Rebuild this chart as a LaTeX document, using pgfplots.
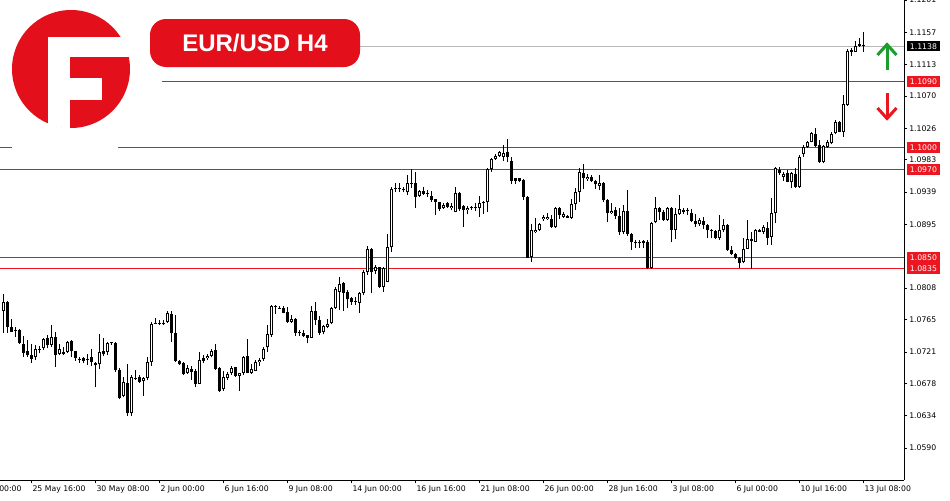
\documentclass[border=0pt]{standalone}
\usepackage{fontspec}
\setmainfont{DejaVu Sans}
\newfontfamily\titlefont{Liberation Sans}
\usepackage{pgfplots}
\usepackage{pgfplotstable}
\pgfplotsset{compat=1.18}
\definecolor{fxred}{RGB}{227,16,28}
\definecolor{lvlred}{RGB}{235,22,32}
\definecolor{upgreen}{RGB}{28,158,46}
\definecolor{lvlgray}{RGB}{185,185,185}

\pgfplotstableread{
i o h l c
0 1.07772 1.08000 1.07472 1.07886
1 1.07886 1.07909 1.07472 1.07554
2 1.07545 1.07654 1.07486 1.07486
3 1.07508 1.07545 1.07417 1.07504
4 1.07508 1.07518 1.07317 1.07336
5 1.07317 1.07427 1.07144 1.07199
6 1.07222 1.07372 1.07144 1.07167
7 1.07167 1.07317 1.07063 1.07113
8 1.07135 1.07304 1.07099 1.07249
9 1.07245 1.07290 1.07190 1.07249
10 1.07258 1.07395 1.07235 1.07381
11 1.07395 1.07440 1.07258 1.07304
12 1.07304 1.07577 1.07281 1.07408
13 1.07408 1.07486 1.07008 1.07167
14 1.07181 1.07317 1.07167 1.07245
15 1.07213 1.07281 1.07167 1.07181
16 1.07208 1.07358 1.07190 1.07349
17 1.07358 1.07372 1.07144 1.07226
18 1.07222 1.07226 1.07090 1.07131
19 1.07117 1.07135 1.07063 1.07113
20 1.07126 1.07135 1.07053 1.07090
21 1.07117 1.07181 1.07031 1.07113
22 1.07135 1.07245 1.07017 1.07076
23 1.07063 1.07076 1.06726 1.07026
24 1.07040 1.07454 1.06972 1.07208
25 1.07222 1.07395 1.07154 1.07181
26 1.07204 1.07349 1.07167 1.07336
27 1.07345 1.07349 1.07304 1.07326
28 1.07336 1.07345 1.06940 1.06962
29 1.06962 1.06985 1.06562 1.06576
30 1.06608 1.06862 1.06589 1.06794
31 1.06780 1.07040 1.06335 1.06371
32 1.06371 1.06894 1.06335 1.06862
33 1.06844 1.06962 1.06826 1.06848
34 1.06862 1.06894 1.06790 1.06803
35 1.06817 1.06871 1.06608 1.06853
36 1.06858 1.07135 1.06826 1.07067
37 1.07067 1.07622 1.07017 1.07590
38 1.07599 1.07668 1.07590 1.07609
39 1.07609 1.07645 1.07577 1.07604
40 1.07604 1.07645 1.07577 1.07609
41 1.07622 1.07768 1.07599 1.07745
42 1.07727 1.07768 1.07349 1.07463
43 1.07472 1.07713 1.07076 1.07090
44 1.07089 1.07098 1.07030 1.07043
45 1.07062 1.07075 1.06893 1.06907
46 1.06925 1.07030 1.06907 1.06993
47 1.06975 1.07016 1.06825 1.06939
48 1.06948 1.06971 1.06734 1.06770
49 1.06779 1.07212 1.06770 1.07098
50 1.07121 1.07166 1.07062 1.07089
51 1.07121 1.07175 1.07098 1.07157
52 1.07157 1.07244 1.07134 1.07225
53 1.07234 1.07316 1.06961 1.06975
54 1.06993 1.07007 1.06666 1.06679
55 1.06698 1.06952 1.06679 1.06870
56 1.06861 1.06939 1.06825 1.06907
57 1.06916 1.07016 1.06893 1.06993
58 1.06998 1.07007 1.06870 1.06880
59 1.06884 1.06925 1.06679 1.06916
60 1.06916 1.07153 1.06893 1.07134
61 1.07153 1.07385 1.06916 1.06925
62 1.06916 1.07052 1.06907 1.06975
63 1.06952 1.07098 1.06948 1.07066
64 1.07066 1.07121 1.07016 1.07098
65 1.07107 1.07280 1.07089 1.07248
66 1.07271 1.07576 1.07212 1.07448
67 1.07439 1.07849 1.07416 1.07835
68 1.07835 1.07849 1.07726 1.07830
69 1.07808 1.07840 1.07794 1.07803
70 1.07812 1.07835 1.07735 1.07744
71 1.07753 1.07826 1.07608 1.07621
72 1.07621 1.07712 1.07598 1.07658
73 1.07658 1.07667 1.07430 1.07471
74 1.07476 1.07507 1.07430 1.07471
75 1.07462 1.07507 1.07416 1.07430
76 1.07435 1.07439 1.07325 1.07403
77 1.07403 1.07835 1.07394 1.07767
78 1.07767 1.07885 1.07576 1.07644
79 1.07644 1.07699 1.07439 1.07471
80 1.07485 1.07576 1.07448 1.07562
81 1.07553 1.07653 1.07530 1.07589
82 1.07598 1.07826 1.07585 1.07803
83 1.07803 1.08090 1.07794 1.08063
84 1.08031 1.08226 1.07780 1.08135
85 1.08144 1.08167 1.07771 1.08017
86 1.08031 1.08053 1.07803 1.07926
87 1.07940 1.07962 1.07849 1.07894
88 1.07894 1.07953 1.07849 1.07899
89 1.07881 1.08031 1.07744 1.08008
90 1.08008 1.08326 1.07980 1.08303
91 1.08303 1.08654 1.08258 1.08608
92 1.08608 1.08622 1.08008 1.08294
93 1.08313 1.08394 1.08267 1.08372
94 1.08363 1.08372 1.08085 1.08099
95 1.08099 1.08372 1.08030 1.08349
96 1.08167 1.08813 1.08158 1.08636
97 1.08636 1.09464 1.08576 1.09432
98 1.09432 1.09509 1.09395 1.09441
99 1.09441 1.09509 1.09395 1.09432
100 1.09432 1.09464 1.09386 1.09418
101 1.09386 1.09623 1.09350 1.09509
102 1.09509 1.09700 1.09441 1.09504
103 1.09509 1.09659 1.09177 1.09327
104 1.09336 1.09418 1.09327 1.09405
105 1.09405 1.09464 1.09350 1.09359
106 1.09368 1.09418 1.09327 1.09364
107 1.09341 1.09405 1.09259 1.09282
108 1.09291 1.09296 1.09077 1.09259
109 1.09250 1.09259 1.09132 1.09159
110 1.09168 1.09236 1.09159 1.09213
111 1.09236 1.09259 1.09177 1.09191
112 1.09169 1.09236 1.09145 1.09204
113 1.09122 1.09464 1.09113 1.09373
114 1.09373 1.09395 1.09132 1.09159
115 1.09204 1.09213 1.08918 1.09145
116 1.09145 1.09204 1.09086 1.09177
117 1.09181 1.09204 1.09145 1.09185
118 1.09186 1.09236 1.09132 1.09191
119 1.09169 1.09341 1.09054 1.09236
120 1.09236 1.09268 1.09086 1.09250
121 1.09250 1.09723 1.09122 1.09700
122 1.09700 1.09860 1.09669 1.09841
123 1.09841 1.09905 1.09830 1.09887
124 1.09887 1.09955 1.09870 1.09932
125 1.09873 1.10032 1.09814 1.09919
126 1.09932 1.10114 1.09805 1.09873
127 1.09814 1.09873 1.09496 1.09546
128 1.09577 1.09587 1.09496 1.09541
129 1.09577 1.09587 1.09532 1.09546
130 1.09555 1.09568 1.09282 1.09327
131 1.09327 1.09341 1.08485 1.08495
132 1.08508 1.08950 1.08440 1.08872
133 1.08840 1.09031 1.08827 1.08872
134 1.08872 1.08963 1.08859 1.08950
135 1.09018 1.09077 1.09000 1.09054
136 1.09022 1.09100 1.09009 1.09054
137 1.09022 1.09077 1.08904 1.08918
138 1.08909 1.09191 1.08895 1.09177
139 1.09168 1.09191 1.09022 1.09077
140 1.09054 1.09122 1.09041 1.09086
141 1.09068 1.09077 1.09032 1.09041
142 1.09041 1.09295 1.09022 1.09223
143 1.09223 1.09441 1.09145 1.09396
144 1.09396 1.09714 1.09259 1.09659
145 1.09646 1.09769 1.09432 1.09587
146 1.09568 1.09632 1.09541 1.09600
147 1.09600 1.09623 1.09532 1.09541
148 1.09541 1.09555 1.09432 1.09496
149 1.09477 1.09623 1.09418 1.09514
150 1.09509 1.09532 1.09259 1.09282
151 1.09282 1.09296 1.08977 1.09100
152 1.09100 1.09236 1.09086 1.09132
153 1.09145 1.09191 1.09022 1.09068
154 1.09068 1.09168 1.08804 1.08849
155 1.08840 1.09214 1.08813 1.09132
156 1.09132 1.09418 1.08795 1.08813
157 1.08813 1.08827 1.08599 1.08704
158 1.08704 1.08736 1.08631 1.08690
159 1.08690 1.08736 1.08631 1.08704
160 1.08722 1.08736 1.08622 1.08690
161 1.08704 1.08736 1.08340 1.08352
162 1.08349 1.08986 1.08340 1.08963
163 1.08977 1.09327 1.08963 1.09177
164 1.09177 1.09191 1.09009 1.09113
165 1.09122 1.09145 1.08996 1.09009
166 1.09009 1.09182 1.08996 1.09177
167 1.09177 1.09182 1.08704 1.08872
168 1.08872 1.09177 1.08749 1.09086
169 1.09086 1.09350 1.09077 1.09159
170 1.09122 1.09168 1.09086 1.09145
171 1.09132 1.09168 1.09077 1.09136
172 1.09100 1.09159 1.08986 1.08996
173 1.08994 1.09085 1.08916 1.08948
174 1.08948 1.09039 1.08930 1.09007
175 1.08994 1.09053 1.08893 1.08939
176 1.08939 1.08948 1.08766 1.08871
177 1.08871 1.08893 1.08757 1.08875
178 1.08857 1.08871 1.08748 1.08757
179 1.08757 1.09075 1.08734 1.08871
180 1.08871 1.09021 1.08848 1.08939
181 1.08939 1.08948 1.08584 1.08598
182 1.08598 1.08657 1.08529 1.08552
183 1.08552 1.08566 1.08475 1.08493
184 1.08493 1.08507 1.08357 1.08416
185 1.08439 1.08757 1.08416 1.08620
186 1.08620 1.09007 1.08610 1.08748
187 1.08748 1.08848 1.08347 1.08721
188 1.08712 1.08884 1.08703 1.08871
189 1.08871 1.08884 1.08839 1.08848
190 1.08848 1.08939 1.08825 1.08916
191 1.08903 1.08984 1.08675 1.08766
192 1.08780 1.09312 1.08666 1.09098
193 1.09098 1.09735 1.08962 1.09722
194 1.09690 1.09735 1.09621 1.09644
195 1.09599 1.09667 1.09540 1.09631
196 1.09644 1.09690 1.09521 1.09530
197 1.09530 1.09667 1.09439 1.09644
198 1.09631 1.09722 1.09449 1.09462
199 1.09462 1.09894 1.09449 1.09872
200 1.09904 1.10031 1.09872 1.10008
201 1.10008 1.10085 1.09995 1.10067
202 1.10076 1.10204 1.10067 1.10190
203 1.10176 1.10258 1.10008 1.10022
204 1.10031 1.10099 1.09781 1.09803
205 1.09803 1.10031 1.09781 1.10022
206 1.10008 1.10099 1.09995 1.10076
207 1.10054 1.10213 1.10040 1.10177
208 1.10190 1.10372 1.10176 1.10349
209 1.10349 1.10358 1.10204 1.10213
210 1.10213 1.10713 1.10145 1.10586
211 1.10577 1.11341 1.10568 1.11314
212 1.11328 1.11350 1.11250 1.11296
213 1.11305 1.11451 1.11296 1.11387
214 1.11410 1.11487 1.11373 1.11387
215 1.11387 1.11578 1.11305 1.11391
}\candles

\begin{document}
\begin{tikzpicture}
\begin{axis}[
  at={(0pt,0pt)}, anchor=north west,
  scale only axis, width=678pt, height=360pt,
  xmin=-0.825, xmax=225.175, ymin=1.05463, ymax=1.1201,
  axis x line*=bottom, axis y line*=right,
  axis line style={line width=0.75pt, black},
  xtick={7,23,...,215},
  xticklabels={25 May 16:00,30 May 08:00,2 Jun 00:00,6 Jun 16:00,9 Jun 08:00,14 Jun 00:00,16 Jun 16:00,21 Jun 08:00,26 Jun 00:00,28 Jun 16:00,3 Jul 08:00,6 Jul 00:00,10 Jul 16:00,13 Jul 08:00},
  ytick={1.0590,1.0634,1.0678,1.0721,1.0765,1.0808,1.0895,1.0939,1.0983,1.1026,1.1070,1.1113,1.1157,1.1201},
  yticklabels={1.0590,1.0634,1.0678,1.0721,1.0765,1.0808,1.0895,1.0939,1.0983,1.1026,1.1070,1.1113,1.1157,1.1201},
  tick align=outside, major tick length=2.25pt,
  tick style={line width=0.6pt, black},
  ticklabel style={font=\fontsize{5.8}{7}\selectfont, inner sep=0pt},
  xticklabel style={anchor=north west, xshift=0.75pt, yshift=-2pt},
  yticklabel style={anchor=west, xshift=1.5pt},
]
% level lines
\addplot[lvlgray, line width=0.75pt, forget plot] coordinates {(89.2,1.1138) (225.175,1.1138)};
\addplot[lvlred, line width=0.75pt, forget plot] coordinates {(39.7,1.1090) (225.175,1.1090)};
\addplot[lvlred, line width=0.75pt, forget plot] coordinates {(-0.825,1.1000) (2.2,1.1000)};
\addplot[lvlred, line width=0.75pt, forget plot] coordinates {(28.7,1.1000) (225.175,1.1000)};
\addplot[lvlred, line width=0.75pt, forget plot] coordinates {(-0.825,1.0970) (225.175,1.0970)};
\addplot[lvlred, line width=0.75pt, forget plot] coordinates {(-0.825,1.0850) (225.175,1.0850)};
\addplot[lvlred, line width=0.75pt, forget plot] coordinates {(-0.825,1.0835) (225.175,1.0835)};
% wicks
\addplot[draw=none, mark=none, forget plot,
  error bars/.cd, y dir=plus, y explicit, error mark=none,
  error bar style={line width=0.75pt, draw=black}]
  table[x=i, y=l, y error plus expr={\thisrow{h}-\thisrow{l}}] {\candles};
% bodies
\addplot[draw=none, mark=none, forget plot,
  error bars/.cd, y dir=plus, y explicit, error mark=none,
  error bar style={line width=2.25pt, draw=black}]
  table[x=i, y expr={min(\thisrow{o},\thisrow{c})}, y error plus expr={max(abs(\thisrow{c}-\thisrow{o}),0.00007)}] {\candles};
% hollow interior of rising candles
\addplot[draw=none, mark=none, forget plot,
  restrict expr to domain={\thisrow{c}-\thisrow{o}}{0.00028:1},
  error bars/.cd, y dir=plus, y explicit, error mark=none,
  error bar style={line width=0.75pt, draw=white, shorten <=0.75pt, shorten >=0.75pt}]
  table[x=i, y=o, y error plus expr={\thisrow{c}-\thisrow{o}}] {\candles};
\coordinate (P1138) at (axis cs:225.175,1.1138);
\coordinate (P1090) at (axis cs:225.175,1.1090);
\coordinate (P1000) at (axis cs:225.175,1.1000);
\coordinate (P0970) at (axis cs:225.175,1.0970);
\coordinate (P0850) at (axis cs:225.175,1.0850);
\coordinate (P0835) at (axis cs:225.175,1.0835);
\coordinate (X0) at (axis cs:-9,1.05463);
\end{axis}
% price boxes
\tikzset{pbox/.style={anchor=west, inner sep=0pt, minimum width=24.75pt, minimum height=7.8pt, text=white, font=\fontsize{5.8}{7}\selectfont, xshift=2pt}}
\node[pbox, fill=black] at (P1138) {1.1138};
\node[pbox, fill=lvlred] at (P1090) {1.1090};
\node[pbox, fill=lvlred] at (P1000) {1.1000};
\node[pbox, fill=lvlred] at (P0970) {1.0970};
\node[pbox, fill=lvlred] at (P0850) {1.0850};
\node[pbox, fill=lvlred] at (P0835) {1.0835};
\node[anchor=north west, inner sep=0pt, font=\fontsize{5.8}{7}\selectfont] at ([xshift=0.75pt, yshift=-4.25pt]X0) {23 May 00:00};
% decorations in pixel coordinates (origin top-left, y down)
\begin{scope}[x=0.75pt, y=-0.75pt]
  % logo
  \fill[fxred] (71,69) circle (59);
  \begin{scope}
    \clip (71,69) circle (59.5);
    \fill[white] (48.3,36.7) rectangle (70,140);
    \fill[white] (48.3,36.7) rectangle (140,56.7);
    \fill[white] (70,78.3) rectangle (101.7,100);
  \end{scope}
  % title
  \fill[fxred, rounded corners=12] (150,19) rectangle (360,67);
  \node[text=white, font=\titlefont\bfseries\fontsize{18}{20}\selectfont] at (255,43) {EUR/USD H4};
  % arrows
  \draw[upgreen, line width=2.25pt] (887,70) -- (887,46);
  \draw[upgreen, line width=2.25pt, line join=miter] (877.5,55) -- (887,44.5) -- (896.5,55);
  \draw[lvlred, line width=2.25pt] (887,93) -- (887,117);
  \draw[lvlred, line width=2.25pt, line join=miter] (877.5,108) -- (887,118.5) -- (896.5,108);
\end{scope}
\pgfresetboundingbox
\useasboundingbox (0,0) rectangle (712.5pt,-375pt);
\end{tikzpicture}
\end{document}
